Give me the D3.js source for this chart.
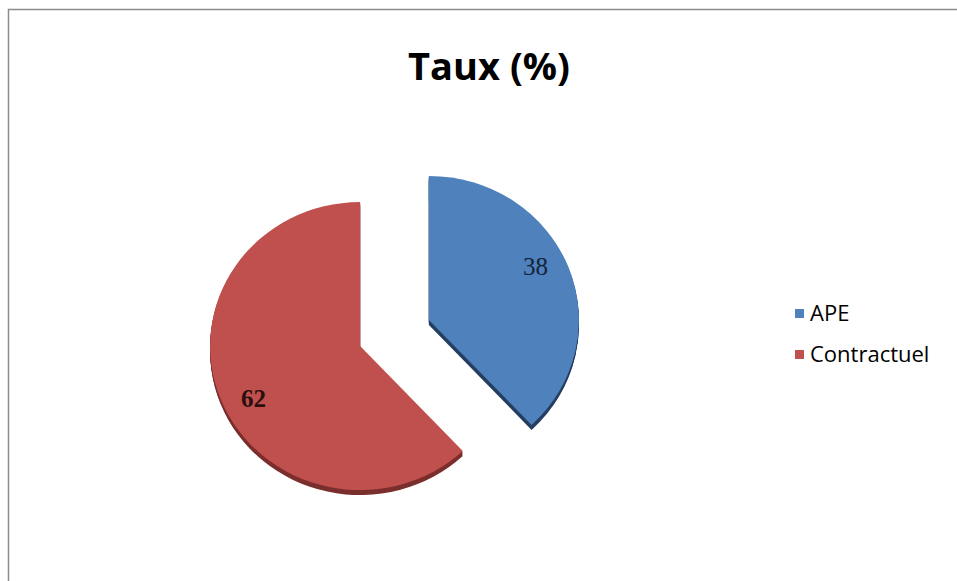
<!DOCTYPE html>
<html>
<head>
<meta charset="utf-8">
<script src="https://cdn.jsdelivr.net/npm/d3@7"></script>
<style>
    body { margin: 0; background: #fff; }
    #chart { width: 957px; height: 581px; }
</style>
</head>
<body>
<div id="chart"></div>
<script>
// data
const categories = ["APE", "Contractuel"];
const values = [38, 62];
const colors = ["#4F81BD", "#C0504D"];
const sideColors = ["#263f62", "#7b2f2d"];
const title = "Taux (%)";

class TauxPie {
    constructor() {
        this.width = 957;
        this.height = 581;
        this.center = {x: 394.5, y: 333};
        this.radius = 150;
        this.squash = 0.96;   // slight 3D tilt
        this.explode = 37;
        this.depth = 5;

        this.svg = d3.select("#chart").append("svg")
            .attr("width", this.width)
            .attr("height", this.height);
    }

    update() {
        // chart area frame, open at right and bottom like the crop
        this.svg.append("path")
            .attr("d", `M8.5,${this.height + 5} L8.5,9.5 L${this.width + 5},9.5`)
            .attr("fill", "none")
            .attr("stroke", "#8c8c8c")
            .attr("stroke-width", 1.5);

        this.svg.append("text")
            .attr("x", 489)
            .attr("y", 80)
            .attr("text-anchor", "middle")
            .style("font-family", "'Open Sans', sans-serif")
            .style("font-weight", "bold")
            .style("font-size", "38px")
            .text(title);

        let pie = d3.pie().sort(null).value(d => d.value);
        let data = pie(categories.map((c, i) => ({name: c, value: values[i], i: i})));

        let arc = d3.arc().innerRadius(0).outerRadius(this.radius);
        let labelR = this.radius * 0.8;

        let offset = d => {
            let mid = (d.startAngle + d.endAngle) / 2;
            return {x: Math.sin(mid) * this.explode, y: -Math.cos(mid) * this.explode * this.squash};
        };

        let slices = this.svg.selectAll("g.slice")
            .data(data)
            .enter()
            .append("g")
            .classed("slice", true)
            .attr("transform", d => {
                let o = offset(d);
                return `translate(${this.center.x + o.x},${this.center.y + o.y})`;
            });

        // side (depth) first, then the top face
        for (let k = this.depth; k >= 1; k--) {
            slices.append("path")
                .attr("d", arc)
                .attr("transform", `translate(0,${k}) scale(1,${this.squash})`)
                .attr("fill", d => sideColors[d.data.i]);
        }

        slices.append("path")
            .attr("d", arc)
            .attr("transform", `scale(1,${this.squash})`)
            .attr("fill", d => colors[d.data.i]);

        // labels sit a little counter-clockwise of the slice middle
        let labelAngle = d => (d.startAngle + d.endAngle) / 2 - 0.1;
        slices.append("text")
            .attr("x", d => Math.sin(labelAngle(d)) * labelR)
            .attr("y", d => -Math.cos(labelAngle(d)) * labelR * this.squash)
            .attr("dy", "0.33em")
            .attr("text-anchor", "middle")
            .style("font-family", "'Liberation Serif', serif")
            .style("font-size", "25px")
            .style("font-weight", d => d.data.i == 1 ? "bold" : "normal")
            .attr("fill", d => d.data.i == 0 ? "#14243a" : "#2a0f0e")
            .text(d => d.data.value);

        // legend
        let legend = this.svg.selectAll("g.legend")
            .data(categories)
            .enter()
            .append("g")
            .classed("legend", true)
            .attr("transform", (d, i) => `translate(795,${309 + i * 41})`);

        legend.append("rect")
            .attr("width", 9)
            .attr("height", 9)
            .attr("fill", (d, i) => colors[i]);

        legend.append("text")
            .attr("x", 15)
            .attr("y", 9)
            .attr("dy", "0.15em")
            .style("font-family", "'Open Sans', sans-serif")
            .style("font-size", "22px")
            .text(d => d);
    }
}

let chart = new TauxPie();
chart.update();
</script>
</body>
</html>
